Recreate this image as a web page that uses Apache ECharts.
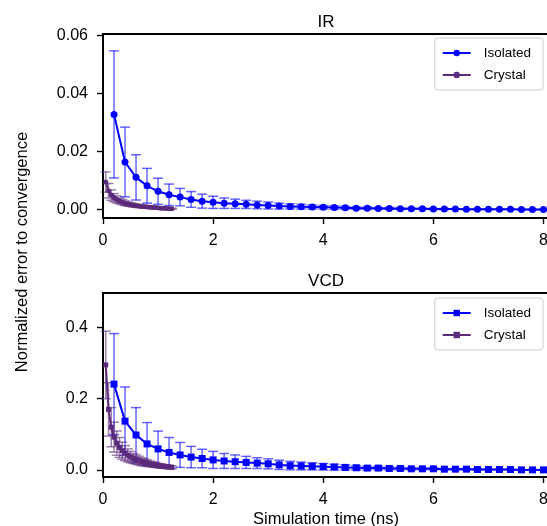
<!DOCTYPE html>
<html><head><meta charset="utf-8">
<script src="https://cdn.jsdelivr.net/npm/echarts@6/dist/echarts.min.js"></script>
<style>html,body{margin:0;padding:0;background:#fff}#c{width:547px;height:526px}</style>
</head><body><div id="c"></div>
<script>
// ---------- data ----------
const isoX = [0.2,0.4,0.6,0.8,1.0,1.2,1.4,1.6,1.8,2.0,2.2,2.4,2.6,2.8,3.0,3.2,3.4,3.6,3.8,4.0,
              4.2,4.4,4.6,4.8,5.0,5.2,5.4,5.6,5.8,6.0,6.2,6.4,6.6,6.8,7.0,7.2,7.4,7.6,7.8,8.0];
const irIso = [0.0328,0.0164,0.0111,0.0082,0.0063,0.0051,0.0043,0.0035,0.0029,0.0025,0.0022,0.0020,0.0018,0.0016,0.0014,0.0012,0.0011,0.0010,0.0009,0.0008,
               0.0007,0.0006,0.0005,0.0005,0.0004,0.0004,0.0003,0.0003,0.0003,0.0002,0.0002,0.0002,0.0001,0.0001,0.0001,0.0001,0.0001,0.0000,0.0000,0.0000];
const irIsoErr = [0.0219,0.0120,0.0078,0.0060,0.0045,0.0037,0.0030,0.0027,0.0024,0.0021,0.0018,0.0016,0.0014,0.0013,0.0012,0.0010,0.0009,0.0008,0.0007,0.0006,
                  0.0006,0.0005,0.0004,0.0004,0.0003,0.0003,0.0003,0.0002,0.0002,0.0002,0.0002,0.0001,0.0001,0.0001,0.0001,0.0001,0.0001,0.0001,0.0001,0.0001];
const vcdIso = [0.241,0.137,0.098,0.073,0.059,0.049,0.042,0.036,0.032,0.028,0.025,0.023,0.021,0.019,0.017,0.014,0.012,0.011,0.010,0.009,
                0.008,0.007,0.006,0.005,0.005,0.004,0.004,0.003,0.003,0.003,0.002,0.002,0.002,0.001,0.001,0.001,0.001,0.000,0.000,0.000];
const vcdIsoErr = [0.142,0.096,0.077,0.060,0.050,0.042,0.035,0.030,0.026,0.024,0.021,0.019,0.017,0.015,0.014,0.013,0.012,0.011,0.010,0.009,
                   0.008,0.007,0.006,0.005,0.005,0.004,0.004,0.003,0.003,0.003,0.002,0.002,0.002,0.002,0.001,0.001,0.001,0.001,0.001,0.001];
const cryX = [0.05,0.10,0.15,0.20,0.25,0.30,0.35,0.40,0.45,0.50,0.55,0.60,0.65,0.70,0.75,0.80,0.85,0.90,0.95,1.00,1.05,1.10,1.15,1.20,1.25];
const irCry = [0.0095,0.0065,0.0050,0.0041,0.0035,0.0030,0.0026,0.0022,0.0019,0.0017,0.0015,0.0013,0.0012,0.0011,0.0010,0.0009,0.0008,0.0007,0.0007,0.0006,0.0005,0.0005,0.0004,0.0004,0.0003];
const irCryErr = [0.0035,0.0025,0.0018,0.0014,0.0012,0.0010,0.0009,0.0008,0.0007,0.0006,0.0006,0.0005,0.0005,0.0004,0.0004,0.0004,0.0003,0.0003,0.0003,0.0003,0.0002,0.0002,0.0002,0.0002,0.0002];
const vcdCry = [0.295,0.170,0.120,0.092,0.075,0.063,0.054,0.047,0.041,0.036,0.032,0.029,0.026,0.023,0.021,0.019,0.017,0.015,0.014,0.012,0.011,0.010,0.009,0.008,0.007];
const vcdCryErr = [0.095,0.075,0.055,0.042,0.034,0.028,0.024,0.021,0.018,0.016,0.014,0.013,0.012,0.011,0.010,0.009,0.008,0.007,0.007,0.006,0.006,0.005,0.005,0.005,0.004];
const xTicks = [0,2,4,6,8];
const irTicks = [0,0.02,0.04,0.06];
const vcdTicks = [0,0.2,0.4];
const titles = ['IR','VCD'];
const seriesNames = ['Isolated','Crystal'];
const yLabel = 'Normalized error to convergence';
const xLabel = 'Simulation time (ns)';

// ---------- chart ----------
const BLUE = '#0000ff', PURPLE = '#5b2a7a';
const FONT = 'Liberation Sans, Arial, sans-serif';
const pts = (xs, ys) => xs.map((x, i) => [x, ys[i]]);
const errs = (xs, ys, es) => xs.map((x, i) => [x, ys[i] - es[i], ys[i] + es[i]]);

function errSeries(name, data, idx, color) {
  return {
    type: 'custom', name: name, xAxisIndex: idx, yAxisIndex: idx, data: data, z: 1,
    silent: true,
    renderItem: function (params, api) {
      const x = api.value(0);
      const lo = api.coord([x, api.value(1)]);
      const hi = api.coord([x, api.value(2)]);
      const w = 5;
      const st = { stroke: color, lineWidth: 1.5, opacity: 0.6 };
      return { type: 'group', children: [
        { type: 'line', shape: { x1: lo[0], y1: lo[1], x2: hi[0], y2: hi[1] }, style: st },
        { type: 'line', shape: { x1: lo[0]-w, y1: lo[1], x2: lo[0]+w, y2: lo[1] }, style: st },
        { type: 'line', shape: { x1: hi[0]-w, y1: hi[1], x2: hi[0]+w, y2: hi[1] }, style: st }
      ]};
    }
  };
}
function lineSeries(name, data, idx, color, symbol, size) {
  return {
    type: 'line', name: name, xAxisIndex: idx, yAxisIndex: idx, data: data, z: 3,
    symbol: symbol, symbolSize: size, showAllSymbol: true,
    lineStyle: { color: color, width: 2 }, itemStyle: { color: color },
    emphasis: { disabled: true }, animation: false
  };
}

const grids = [
  { left: 103, top: 34, width: 446, height: 184 },
  { left: 103, top: 293, width: 446, height: 184 }
];
const axisCommon = {
  axisLine: { show: true, onZero: false, lineStyle: { color: '#000', width: 1.8 } },
  axisTick: { show: true, inside: false, length: 6, lineStyle: { color: '#000', width: 1.4 } },
  splitLine: { show: false },
  axisLabel: { color: '#000', fontSize: 16, fontFamily: FONT }
};
function xAxis(idx, withName) {
  return Object.assign({}, axisCommon, {
    type: 'value', gridIndex: idx, min: 0, max: 8.1,
    axisTick: Object.assign({}, axisCommon.axisTick, { customValues: xTicks }),
    axisLabel: Object.assign({}, axisCommon.axisLabel, { customValues: xTicks, margin: 15, formatter: v => String(v) }),
    name: withName ? xLabel : '', nameLocation: 'middle', nameGap: 34,
    nameTextStyle: { color: '#000', fontSize: 16.5, fontFamily: FONT }
  });
}
function yAxis(idx, min, max, ticks, dec) {
  return Object.assign({}, axisCommon, {
    type: 'value', gridIndex: idx, min: min, max: max,
    axisTick: Object.assign({}, axisCommon.axisTick, { customValues: ticks }),
    axisLabel: Object.assign({}, axisCommon.axisLabel, { customValues: ticks, margin: 15, formatter: v => v.toFixed(dec) })
  });
}
function legend(idx, top) {
  return {
    orient: 'vertical', right: 4, top: top,
    data: seriesNames.map(n => idx === 0 ? n : n + ' (VCD)'),
    formatter: n => n.split(' ')[0],
    itemWidth: 28, itemHeight: 8, itemGap: 8,
    padding: [8, 12, 8, 7],
    borderColor: '#cccccc', borderWidth: 1, borderRadius: 3,
    backgroundColor: 'rgba(255,255,255,0.8)',
    textStyle: { color: '#000', fontSize: 13.5, fontFamily: FONT, padding: [0, 0, 0, 8] },
    selectedMode: false
  };
}

const option = {
  animation: false,
  backgroundColor: '#fff',
  title: [
    { text: titles[0], left: 326, top: 14, textAlign: 'center', padding: 0,
      textStyle: { color: '#000', fontSize: 17, fontWeight: 'normal', fontFamily: FONT } },
    { text: titles[1], left: 326, top: 273, textAlign: 'center', padding: 0,
      textStyle: { color: '#000', fontSize: 17, fontWeight: 'normal', fontFamily: FONT } }
  ],
  grid: grids.map(g => Object.assign({ show: true, borderColor: '#000', borderWidth: 1.8,
    backgroundColor: 'transparent', containLabel: false, outerBoundsMode: 'none' }, g)),
  xAxis: [xAxis(0, false), xAxis(1, true)],
  yAxis: [yAxis(0, -0.0029, 0.0605, irTicks, 2), yAxis(1, -0.02, 0.497, vcdTicks, 1)],
  legend: [legend(0, 38), legend(1, 298)],
  graphic: [{
    type: 'text', x: 22, y: 252, rotation: Math.PI / 2,
    style: { text: yLabel, fill: '#000', font: '16.5px ' + FONT, align: 'center', verticalAlign: 'middle' }
  }],
  series: [
    errSeries('err-iso-ir', errs(isoX, irIso, irIsoErr), 0, BLUE),
    errSeries('err-cry-ir', errs(cryX, irCry, irCryErr), 0, PURPLE),
    lineSeries(seriesNames[0], pts(isoX, irIso), 0, BLUE, 'circle', 7),
    lineSeries(seriesNames[1], pts(cryX, irCry), 0, PURPLE, 'circle', 5),
    errSeries('err-iso-vcd', errs(isoX, vcdIso, vcdIsoErr), 1, BLUE),
    errSeries('err-cry-vcd', errs(cryX, vcdCry, vcdCryErr), 1, PURPLE),
    lineSeries(seriesNames[0] + ' (VCD)', pts(isoX, vcdIso), 1, BLUE, 'rect', 7),
    lineSeries(seriesNames[1] + ' (VCD)', pts(cryX, vcdCry), 1, PURPLE, 'rect', 5)
  ]
};
const chart = echarts.init(document.getElementById('c'), null, { renderer: 'canvas' });
chart.setOption(option);
</script>
</body></html>
